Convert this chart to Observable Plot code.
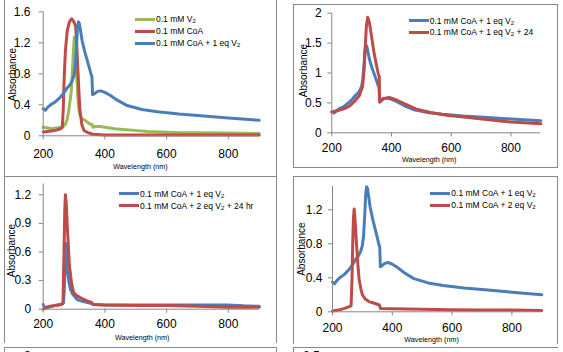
<!DOCTYPE html>
<html><head><meta charset="utf-8">
<script src="https://cdn.jsdelivr.net/npm/d3@7"></script>
<script src="https://cdn.jsdelivr.net/npm/@observablehq/plot@0.6"></script>
<style>
body{margin:0;background:#fff;}
#root{position:relative;width:563px;height:352px;overflow:hidden;font-family:"Liberation Sans",Arial,sans-serif;background:#fff;}
.bl{position:absolute;background:#888;}
.panel{position:absolute;}
.panel svg{overflow:visible;}
.leg{position:absolute;font-size:8.5px;color:#000;white-space:nowrap;}
.leg .row{position:absolute;left:0;height:12px;line-height:12px;display:flex;align-items:center;}
.leg .sw{width:20px;height:3px;margin-right:1px;}
.leg sub{font-size:6px;vertical-align:-1px;line-height:0;}
.frag{position:absolute;font-size:12px;color:#000;}
</style></head>
<body><div id="root"></div>
<script>
// ---------- data ----------
const xDomain = [200, 900];
const xTicks = [200, 400, 600, 800];
const yTicks1 = [0, 0.4, 0.8, 1.2, 1.6];
const yTicks2 = [0, 0.5, 1, 1.5, 2];
const yTicks3 = [0, 0.3, 0.6, 0.9, 1.2];
const yTicks4 = [0, 0.4, 0.8, 1.2];

// 0.1 mM V2
const wlV2  = [200,215,230,256,265,272,278,283,287,291,295,298,301,304,307,310,313,316,320,326,335,345,353,358,361,370,385,400,430,460,495,540,600,650,700,800,900];
const absV2 = [0.11,0.10,0.09,0.11,0.12,0.15,0.22,0.33,0.45,0.58,0.85,1.10,1.27,1.15,0.90,0.67,0.45,0.33,0.26,0.22,0.20,0.17,0.15,0.15,0.11,0.12,0.12,0.11,0.09,0.08,0.07,0.055,0.045,0.04,0.04,0.035,0.03];
// 0.1 mM CoA
const wlCoA  = [200,220,240,256,262,265,268,272,278,285,292,298,305,309,312,316,319,325,332,345,360,400,500,600,700,800,900];
const absCoA = [0.05,0.06,0.07,0.09,0.11,0.35,0.75,1.10,1.36,1.47,1.51,1.48,1.42,1.15,0.88,0.55,0.33,0.15,0.07,0.04,0.02,0.01,0.01,0.01,0.01,0.01,0.01];
// 0.1 mM CoA + 1 eq V2
const wlCoA1  = [200,207,215,224,240,256,270,278,287,294,300,304,308,311,314,317,320,326,335,343,350,356,358,360,365,375,386,400,418,440,472,520,570,640,710,800,900];
const absCoA1 = [0.35,0.33,0.37,0.40,0.44,0.50,0.57,0.62,0.66,0.71,0.78,0.90,1.15,1.38,1.47,1.45,1.38,1.23,1.08,0.97,0.87,0.78,0.76,0.53,0.54,0.57,0.58,0.56,0.52,0.46,0.39,0.34,0.31,0.28,0.26,0.23,0.20];
// 0.1 mM CoA + 1 eq V2 + 24
const wlCoA1_24  = [200,220,240,258,275,292,303,308,312,316,320,324,328,335,342,350,356,359,360,365,370,380,392,405,420,450,481,530,592,650,703,800,900];
const absCoA1_24 = [0.35,0.37,0.40,0.44,0.52,0.62,0.77,1.05,1.43,1.80,1.93,1.88,1.78,1.55,1.32,1.12,0.98,0.94,0.51,0.53,0.57,0.58,0.59,0.57,0.54,0.47,0.40,0.34,0.29,0.26,0.23,0.18,0.15];
// panel 3: 0.1 mM CoA + 1 eq V2
const wlCoA1b  = [200,205,215,240,260,266,269,271,273,275,278,283,288,295,310,330,357,362,400,500,600,700,796,850,900];
const absCoA1b = [0.05,0.01,0.02,0.04,0.05,0.07,0.25,0.55,0.69,0.62,0.42,0.29,0.21,0.16,0.10,0.08,0.06,0.05,0.045,0.045,0.045,0.045,0.045,0.035,0.03];
// 0.1 mM CoA + 2 eq V2 + 24 hr
const wlCoA2_24  = [200,210,224,256,264,267,270,272,275,278,285,292,299,310,321,340,357,362,400,500,600,700,800,900];
const absCoA2_24 = [0.00,0.02,0.03,0.05,0.06,0.52,1.05,1.20,1.10,0.87,0.45,0.27,0.17,0.14,0.12,0.09,0.07,0.05,0.045,0.04,0.04,0.03,0.02,0.02];
// 0.1 mM CoA + 2 eq V2
const wlCoA2  = [200,220,240,256,262,265,268,270,272.5,276,280,285,289,295,300,310,322,340,357,360,400,500,600,700,800,900];
const absCoA2 = [0.01,0.02,0.04,0.06,0.07,0.35,0.85,1.10,1.21,1.05,0.81,0.55,0.38,0.27,0.20,0.15,0.12,0.10,0.08,0.04,0.035,0.03,0.025,0.02,0.02,0.015];

const GREEN = "#98B954", RED = "#BE4B48", BLUE = "#4A7EBB";

const pts = (w, a) => d3.zip(w, a).map(([x, y]) => ({x, y}));

const panels = [
  { left:0, top:0, width:276, height:176, mL:42.7, mR:17.3, mT:11.3, mB:40.7,
    yDomain:[0,1.6], yTicks:yTicks1, xPad:9.7, yPad:8.7,
    yl:{dx:-30.2, dy:0.7}, xl:{dx:-10.7, dy:31.2},
    series:[[wlV2,absV2,GREEN],[wlCoA,absCoA,RED],[wlCoA1,absCoA1,BLUE]] },
  { left:282, top:0, width:276, height:168, mL:49.3, mR:17.7, mT:12.7, mB:35.7,
    yDomain:[0,2], yTicks:yTicks2, xPad:7, yPad:6,
    yl:{dx:-28.3, dy:-2.5}, xl:{dx:-7.1, dy:27},
    series:[[wlCoA1,absCoA1,BLUE],[wlCoA1_24,absCoA1_24,RED]] },
  { left:0, top:176, width:276, height:168, mL:42.7, mR:17.3, mT:7.5, mB:35.3,
    yDomain:[0,1.313], yTicks:yTicks3, xPad:6.3, yPad:8,
    yl:{dx:-31, dy:3.9}, xl:{dx:-9, dy:28},
    series:[[wlCoA1b,absCoA1b,BLUE],[wlCoA2_24,absCoA2_24,RED]] },
  { left:282, top:176, width:276, height:168, mL:50, mR:16.7, mT:10, mB:32.7,
    yDomain:[0,1.474], yTicks:yTicks4, xPad:7.4, yPad:6,
    yl:{dx:-31, dy:0}, xl:{dx:-5.6, dy:28},
    series:[[wlCoA1,absCoA1,BLUE],[wlCoA2,absCoA2,RED]] }
];

const root = document.getElementById("root");

// frames (boxes)
const lines = [
  // panel 1
  [4,0,1,176],[276,0,1,176],[4,176,273,1],
  // panel 3
  [4,176,1,167],[276,176,1,167],
  // panel 2
  [293,4,265,1],[293,4,1,164],[557,4,1,164],[293,167,265,1],
  // panel 4
  [293,176,265,1],[293,176,1,168],[557,176,1,168],
  // next row boxes
  [4,347,273,1],[4,347,1,6],[276,347,1,6],[293,347,265,1],[293,347,1,6]
];
for (const [x,y,w,h] of lines) {
  const d = document.createElement("div");
  d.className = "bl";
  Object.assign(d.style, {left:x+"px", top:y+"px", width:w+"px", height:h+"px"});
  root.appendChild(d);
}

for (const p of panels) {
  const marks = [];
  for (const [w,a,c] of p.series) {
    marks.push(Plot.line(pts(w,a), {x:"x", y:"y", stroke:c, strokeWidth:3, strokeLinejoin:"round", strokeLinecap:"round"}));
  }
  marks.push(Plot.ruleX([xDomain[0]], {stroke:"#868686", strokeWidth:1}));
  marks.push(Plot.ruleY([p.yDomain[0]], {stroke:"#868686", strokeWidth:1}));
  marks.push(Plot.axisX({ticks:xTicks, tickSize:4, tickPadding:p.xPad, stroke:"#868686", fill:"#000", fontSize:12, label:null, tickFormat:d3.format("d")}));
  marks.push(Plot.axisY({ticks:p.yTicks, tickSize:4, tickPadding:p.yPad, stroke:"#868686", fill:"#000", fontSize:12, label:null, tickFormat:d=>String(d)}));
  marks.push(Plot.text(["Absorbance"], {frameAnchor:"left", text:d=>d, rotate:-90, dx:p.yl.dx, dy:p.yl.dy, fontSize:10, fill:"#000", textAnchor:"middle", lineAnchor:"middle"}));
  marks.push(Plot.text(["Wavelength (nm)"], {frameAnchor:"bottom", text:d=>d, dx:p.xl.dx, dy:p.xl.dy, fontSize:7.2, fill:"#000", textAnchor:"middle", lineAnchor:"middle"}));
  const svg = Plot.plot({
    width:p.width, height:p.height,
    marginLeft:p.mL, marginRight:p.mR, marginTop:p.mT, marginBottom:p.mB,
    x:{domain:xDomain}, y:{domain:p.yDomain},
    style:{background:"transparent", fontFamily:"'Liberation Sans', Arial, sans-serif", overflow:"visible"},
    marks
  });
  const wrap = document.createElement("div");
  wrap.className = "panel";
  Object.assign(wrap.style, {left:p.left+"px", top:p.top+"px"});
  wrap.appendChild(svg);
  root.appendChild(wrap);
}

// legends
const legends = [
  { left:135, top:13, rows:[["0.1 mM V", "2", "", GREEN],["0.1 mM CoA", "", "", RED],["0.1 mM CoA + 1 eq V","2","",BLUE]], gap:12 },
  { left:408.7, top:14.7, rows:[["0.1 mM CoA + 1 eq V","2","",BLUE],["0.1 mM CoA + 1 eq V","2"," + 24",RED]], gap:11.6 },
  { left:119, top:187.7, rows:[["0.1 mM CoA + 1 eq V","2","",BLUE],["0.1 mM CoA + 2 eq V","2"," + 24 hr",RED]], gap:12.3 },
  { left:430.3, top:187.3, rows:[["0.1 mM CoA + 1 eq V","2","",BLUE],["0.1 mM CoA + 2 eq V","2","",RED]], gap:12 }
];
for (const L of legends) {
  const g = document.createElement("div");
  g.className = "leg";
  Object.assign(g.style, {left:L.left+"px", top:L.top+"px"});
  L.rows.forEach(([a,s,b,c],i) => {
    const r = document.createElement("div");
    r.className = "row";
    r.style.top = (i*L.gap)+"px";
    r.innerHTML = `<span class="sw" style="background:${c}"></span><span>${a}${s?`<sub>${s}</sub>`:""}${b}</span>`;
    g.appendChild(r);
  });
  root.appendChild(g);
}

// cut-off tick labels of the next row of charts
const frags = [[24,349,"2"],[303,349,"2.5"]];
for (const [x,y,t] of frags) {
  const d = document.createElement("div");
  d.className = "frag";
  d.textContent = t;
  Object.assign(d.style, {left:x+"px", top:y+"px"});
  root.appendChild(d);
}
</script></body></html>
